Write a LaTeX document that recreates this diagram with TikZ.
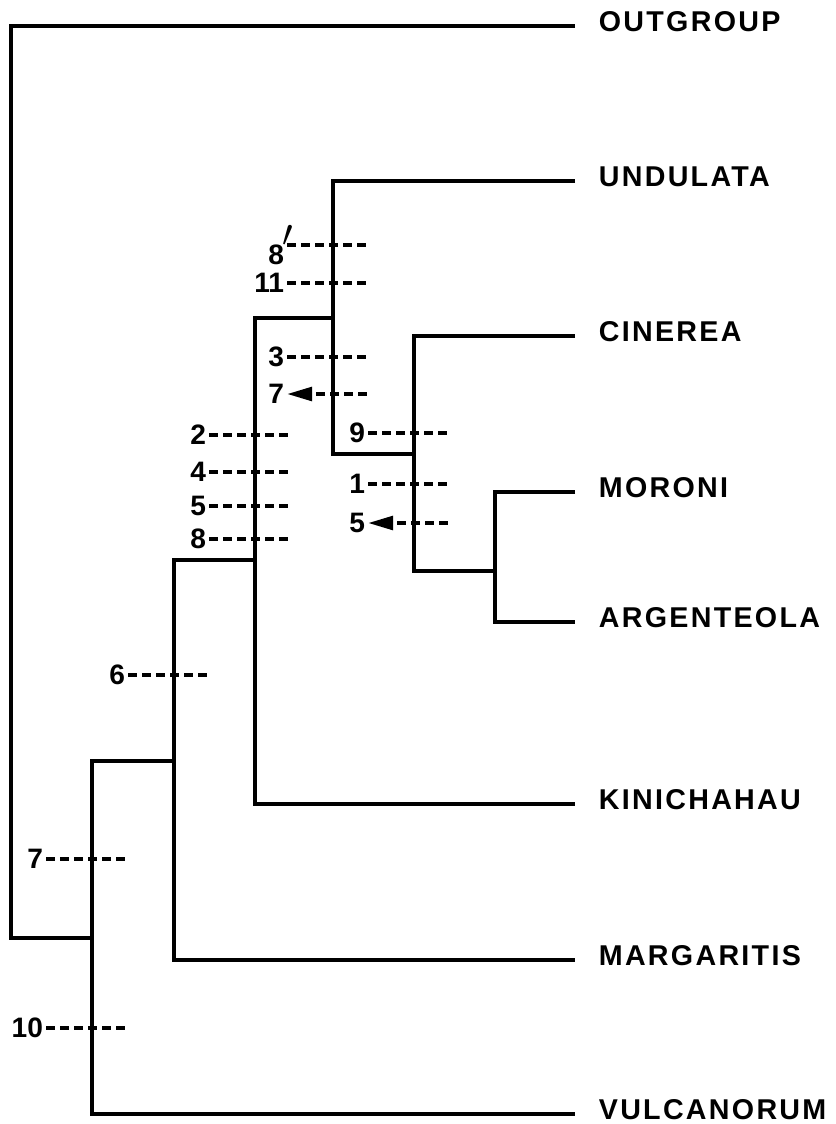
\documentclass[tikz,border=0pt]{standalone}
\usepackage{fontspec}
\setmainfont{Liberation Sans}
\newfontfamily\taxfont{Liberation Sans}[LetterSpace=8]
\usetikzlibrary{arrows.meta, positioning}

\begin{document}
\begin{tikzpicture}[
    x=0.2mm, y=-0.2mm,
    taxon/.style={inner sep=0pt, yshift=0.08cm,
                  font=\taxfont\bfseries\fontsize{16.3}{19}\selectfont},
    num/.style={anchor=east, inner xsep=1.5pt, inner ysep=0pt,
                font=\bfseries\fontsize{16}{18}\selectfont},
    branch/.style={line width=2pt},
    chg/.style={line width=2.2pt, dash pattern=on 0.18cm off 0.1cm},
    rev/.style={chg, dash phase=0.18cm, {Triangle[length=0.5cm, width=0.27cm]}-}
]
\useasboundingbox (0,0) rectangle (835,1124);

% branch tips
\coordinate (outg) at (575,26);
\coordinate (undu) at (575,181);
\coordinate (cine) at (575,336);
\coordinate (moro) at (575,492);
\coordinate (arge) at (575,622);
\coordinate (kini) at (575,804);
\coordinate (marg) at (575,960);
\coordinate (vulc) at (575,1114);

% taxon names
\node[taxon, right=0.47cm of outg] (outg-l) {OUTGROUP};
\node[taxon, right=0.47cm of undu] (undu-l) {UNDULATA};
\node[taxon, right=0.47cm of cine] (cine-l) {CINEREA};
\node[taxon, right=0.47cm of moro] (moro-l) {MORONI};
\node[taxon, right=0.47cm of arge] (arge-l) {ARGENTEOLA};
\node[taxon, right=0.47cm of kini] (kini-l) {KINICHAHAU};
\node[taxon, right=0.47cm of marg] (marg-l) {MARGARITIS};
\node[taxon, right=0.47cm of vulc] (vulc-l) {VULCANORUM};

% internal nodes
\coordinate (root) at (11,938);
\coordinate (n1) at (92,938);
\coordinate (n2) at (174,761);
\coordinate (n3) at (255,560);
\coordinate (n4) at (333,318);
\coordinate (n5) at (414,454);
\coordinate (n6) at (495,571);

\draw[branch] (moro) -| (n6) |- (arge);
\draw[branch] (cine) -| (n5) |- (n6);
\draw[branch] (undu) -| (n4) |- (n5);
\draw[branch] (n4) -| (n3) |- (kini);
\draw[branch] (n3) -| (n2) |- (marg);
\draw[branch] (n2) -| (n1) |- (vulc);
\draw[branch] (outg) -| (root) -- (n1);

% character changes
\node[num] (c8p) at (287,245) {8\rlap{\hspace{-1pt}\raisebox{0.62em}{\scalebox{1.25}{$\prime$}}}};
\draw[chg] (c8p.east) -- ++(79,0);
\node[num] (c11) at (287,283) {11};
\draw[chg] (c11.east) -- ++(79,0);
\node[num] (c3) at (287,357) {3};
\draw[chg] (c3.east) -- ++(79,0);
\node[num] (c7r) at (287,394) {7};
\draw[rev] (c7r.east) -- ++(81,0);

\node[num] (c2) at (209,435) {2};
\draw[chg] (c2.east) -- ++(79,0);
\node[num] (c4) at (209,472) {4};
\draw[chg] (c4.east) -- ++(79,0);
\node[num] (c5) at (209,506) {5};
\draw[chg] (c5.east) -- ++(79,0);
\node[num] (c8) at (209,539) {8};
\draw[chg] (c8.east) -- ++(79,0);

\node[num] (c9) at (368,433) {9};
\draw[chg] (c9.east) -- ++(79,0);
\node[num] (c1) at (368,484) {1};
\draw[chg] (c1.east) -- ++(79,0);
\node[num] (c5r) at (368,523) {5};
\draw[rev] (c5r.east) -- ++(81,0);

\node[num] (c6) at (128,675) {6};
\draw[chg] (c6.east) -- ++(79,0);

\node[num] (c7) at (46,859) {7};
\draw[chg] (c7.east) -- ++(79,0);
\node[num] (c10) at (46,1028) {10};
\draw[chg] (c10.east) -- ++(79,0);
\end{tikzpicture}
\end{document}
